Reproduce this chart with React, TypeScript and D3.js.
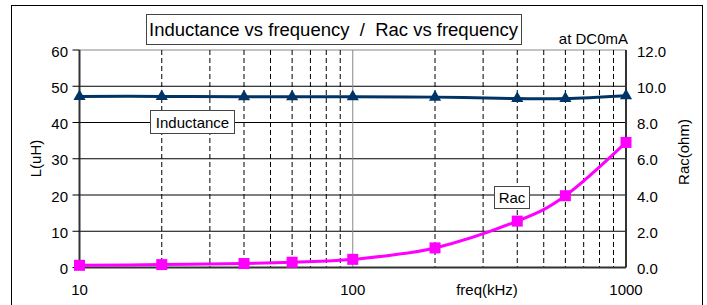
import React from "react";
import * as d3 from "d3";

const freqs = [10, 20, 40, 60, 100, 200, 400, 600, 1000];
const inductance = [47.2, 47.2, 47.1, 47.1, 47.1, 47.0, 46.6, 46.6, 47.4];
const rac = [0.12, 0.16, 0.22, 0.29, 0.45, 1.08, 2.56, 3.96, 6.9];
const leftTicks = [0, 10, 20, 30, 40, 50, 60];
const rightTicks = [0, 2, 4, 6, 8, 10, 12];
const xTickLabels = [10, 100, 1000];
const minorX = [20, 30, 40, 50, 60, 70, 80, 90, 200, 300, 400, 500, 600, 700, 800, 900];

const W = 707;
const H = 305;
const X0 = 79.5;
const X1 = 626;
const Y0 = 50;
const Y1 = 267.5;
const FONT = "'Liberation Sans', Arial, sans-serif";

export default function App() {
  const x = d3.scaleLog().domain([10, 1000]).range([X0, X1]);
  const yL = d3.scaleLinear().domain([0, 60]).range([Y1, Y0]);
  const yR = d3.scaleLinear().domain([0, 12]).range([Y1, Y0]);

  const lineL = d3
    .line<number>()
    .x((_, i) => x(freqs[i]))
    .y((d) => yL(d))
    .curve(d3.curveCatmullRom.alpha(0));
  const lineR = d3
    .line<number>()
    .x((_, i) => x(freqs[i]))
    .y((d) => yR(d))
    .curve(d3.curveCatmullRom.alpha(0));

  const tri = d3.symbol(d3.symbolTriangle, 64)() as string;

  return (
    <svg
      width={W}
      height={H}
      style={{ position: "absolute", left: 0, top: 0, background: "#fff" }}
      fontFamily={FONT}
    >
      <rect x={11.5} y={5.5} width={691} height={310} fill="#fff" stroke="#000" strokeWidth={1} />

      {/* plot border top (grey) */}
      <line x1={X0} x2={X1} y1={Y0} y2={Y0} stroke="#888" strokeWidth={1} />

      {/* horizontal grid */}
      {leftTicks
        .filter((t) => t > 0 && t < 60)
        .map((t) => (
          <line key={"h" + t} x1={X0} x2={X1} y1={yL(t)} y2={yL(t)} stroke="#000" strokeWidth={1} />
        ))}

      {/* vertical grid */}
      {minorX.map((f) => (
        <line
          key={"v" + f}
          x1={x(f)}
          x2={x(f)}
          y1={Y0}
          y2={Y1}
          stroke="#000"
          strokeWidth={1}
          strokeDasharray="5,3"
        />
      ))}
      <line x1={x(100)} x2={x(100)} y1={Y0} y2={Y1} stroke="#888" strokeWidth={1} />

      {/* axes */}
      <line x1={X0} x2={X0} y1={Y0} y2={Y1} stroke="#333" strokeWidth={2} />
      <line x1={X1} x2={X1} y1={Y0} y2={Y1} stroke="#333" strokeWidth={2} />
      <line x1={X0} x2={X1} y1={Y1} y2={Y1} stroke="#333" strokeWidth={2} />

      {/* left ticks & labels */}
      {leftTicks.map((t) => (
        <g key={"lt" + t}>
          <line x1={X0 - 7} x2={X0} y1={yL(t)} y2={yL(t)} stroke="#000" strokeWidth={1} />
          <text x={68} y={yL(t) + 6.5} fontSize={15} textAnchor="end" fill="#000">
            {t}
          </text>
        </g>
      ))}

      {/* right labels */}
      {rightTicks.map((t) => (
        <text key={"rt" + t} x={637} y={yR(t) + 6.5} fontSize={15} textAnchor="start" fill="#000">
          {t.toFixed(1)}
        </text>
      ))}

      {/* x labels */}
      {xTickLabels.map((t) => (
        <text key={"xt" + t} x={x(t)} y={295} fontSize={15} textAnchor="middle" fill="#000">
          {t}
        </text>
      ))}
      <text x={487} y={295} fontSize={15} textAnchor="middle" fill="#000">
        freq(kHz)
      </text>

      {/* axis titles */}
      <text
        transform={`translate(41,158.5) rotate(-90)`}
        fontSize={15}
        textAnchor="middle"
        fill="#000"
      >
        L(uH)
      </text>
      <text
        transform={`translate(689,152) rotate(-90)`}
        fontSize={15}
        textAnchor="middle"
        fill="#000"
      >
        Rac(ohm)
      </text>

      {/* series */}
      <path d={lineL(inductance) || ""} fill="none" stroke="#003366" strokeWidth={3} />
      {inductance.map((v, i) => (
        <path
          key={"m" + i}
          d={tri}
          transform={`translate(${x(freqs[i])},${yL(v)})`}
          fill="#003366"
        />
      ))}
      <path d={lineR(rac) || ""} fill="none" stroke="#ff00ff" strokeWidth={3} />
      {rac.map((v, i) => (
        <rect
          key={"s" + i}
          x={x(freqs[i]) - 5.5}
          y={yR(v) - 5.5}
          width={11}
          height={11}
          fill="#ff00ff"
        />
      ))}

      {/* title */}
      <rect x={146.5} y={14.5} width={375} height={30} fill="#fff" stroke="#444" strokeWidth={1} />
      <text
        x={149}
        y={35.5}
        fontSize={18}
        fill="#000"
        style={{ whiteSpace: "pre" }}
        textLength={369}
        lengthAdjust="spacingAndGlyphs"
      >
        {"Inductance vs frequency  /  Rac vs frequency"}
      </text>
      <text x={628} y={43.5} fontSize={15} textAnchor="end" fill="#000">
        at DC0mA
      </text>

      {/* series labels */}
      <rect x={150.5} y={110.5} width={84} height={23} fill="#fff" stroke="#444" strokeWidth={1} />
      <text x={192.5} y={127.5} fontSize={15} textAnchor="middle" fill="#000">
        Inductance
      </text>
      <rect x={494.5} y={186.5} width={35} height={22} fill="#fff" stroke="#444" strokeWidth={1} />
      <text x={512} y={202.5} fontSize={15} textAnchor="middle" fill="#000">
        Rac
      </text>
    </svg>
  );
}
